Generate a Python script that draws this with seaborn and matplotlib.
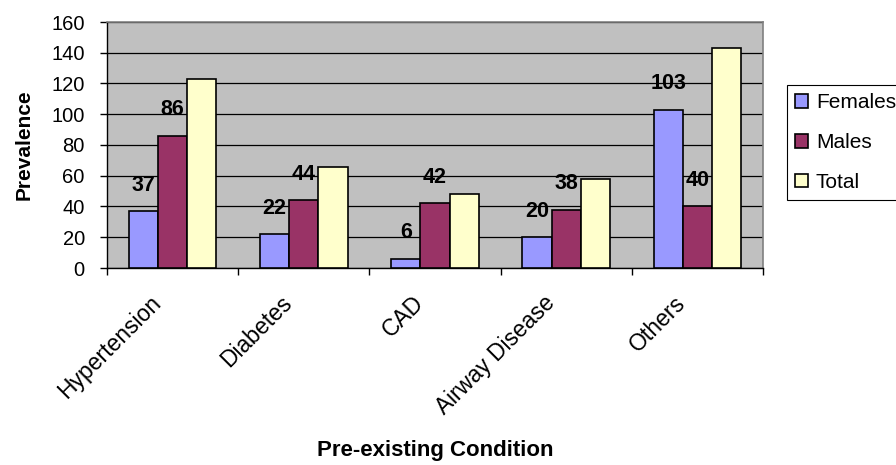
import pandas as pd
import seaborn as sns
from matplotlib import pyplot as plt
from matplotlib.transforms import ScaledTranslation

conditions = ["Hypertension", "Diabetes", "CAD", "Airway Disease", "Others"]
groups = ["Females", "Males", "Total"]
females = [37, 22, 6, 20, 103]
males = [86, 44, 42, 38, 40]
total = [123, 66, 48, 58, 143]
yticks = [0, 20, 40, 60, 80, 100, 120, 140, 160]

df = pd.DataFrame({
    "condition": conditions * 3,
    "group": [g for g in groups for _ in conditions],
    "prevalence": females + males + total,
})

colors = {"Females": "#9999FF", "Males": "#993366", "Total": "#FFFFCC"}

sns.set_style("white")
plt.rcParams["font.family"] = ["Liberation Sans", "DejaVu Sans"]
plt.rcParams["text.color"] = "black"
plt.rcParams["axes.labelcolor"] = "black"
plt.rcParams["xtick.color"] = "black"
plt.rcParams["ytick.color"] = "black"

fig = plt.figure(figsize=(8.96, 4.65), dpi=100)
ax = fig.add_axes([107 / 896, 1 - 268 / 465, 656 / 896, 246 / 465])
ax.set_facecolor("#C0C0C0")

sns.barplot(
    data=df, x="condition", y="prevalence", hue="group",
    order=conditions, hue_order=groups, palette=colors,
    width=0.667, edgecolor="black", linewidth=1.2, saturation=1,
    ax=ax, zorder=3,
)

# value labels on Females and Males only
for cont in ax.containers[:2]:
    ax.bar_label(cont, fmt="%d", padding=11, fontsize=15.5, fontweight="bold",
                 color="black", zorder=4)

ax.set_ylim(0, 160)
ax.set_xlim(-0.5, len(conditions) - 0.5)
ax.set_yticks(yticks)
ax.yaxis.grid(True, color="black", linewidth=0.9, zorder=0)
ax.set_axisbelow(True)
ax.tick_params(axis="y", which="major", length=5, width=1, color="black",
               labelsize=14.5, pad=11, left=True)

# category boundary ticks on x, labels at centres
ax.set_xticks([i - 0.5 for i in range(len(conditions) + 1)])
ax.set_xticklabels([])
ax.tick_params(axis="x", which="major", length=5, width=1, color="black", bottom=True)
ax.set_xticks(range(len(conditions)), minor=True)
ax.set_xticklabels(conditions, minor=True, rotation=45, ha="right", va="top",
                   fontsize=16.5)
ax.tick_params(axis="x", which="minor", length=0, pad=17)
shift = ScaledTranslation(-7 / 100, 0, fig.dpi_scale_trans)
for lbl in ax.get_xticklabels(minor=True):
    lbl.set_transform(lbl.get_transform() + shift)

for side in ["left", "bottom"]:
    ax.spines[side].set_color("black")
    ax.spines[side].set_linewidth(1)
for side in ["top", "right"]:
    ax.spines[side].set_color("#808080")
    ax.spines[side].set_linewidth(1.2)

ax.set_xlabel("Pre-existing Condition", fontsize=16, fontweight="bold")
ax.xaxis.set_label_coords(0.5, -0.70)
ax.set_ylabel("Prevalence", fontsize=15, fontweight="bold")
ax.yaxis.set_label_coords(-0.112, 0.5)

handles, labels = ax.get_legend_handles_labels()
ax.legend_.remove()
leg = fig.legend(handles, labels, loc="upper left", bbox_to_anchor=(787 / 896, 1 - 85 / 465),
                 frameon=True, fancybox=False, shadow=False, fontsize=15,
                 handlelength=0.63, handleheight=0.63, handletextpad=0.35,
                 labelspacing=1.0, borderpad=0.4, borderaxespad=0)
leg.get_frame().set_edgecolor("black")
leg.get_frame().set_linewidth(0.8)
leg.get_frame().set_alpha(1)

fig.savefig("out.png", dpi=100)
